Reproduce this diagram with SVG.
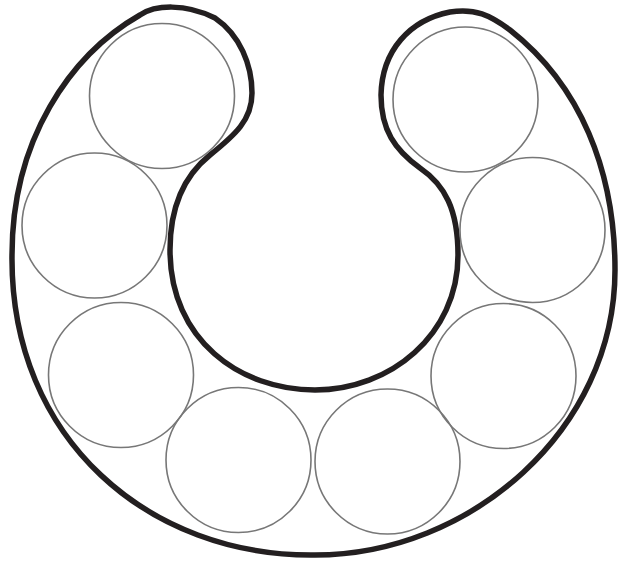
<svg xmlns="http://www.w3.org/2000/svg" width="629" height="565" viewBox="0 0 629 565">
<style>
.outline{fill:none;stroke:#231f20;stroke-width:5.5;stroke-linejoin:round}
.c{fill:none;stroke:#777;stroke-width:1.6}
</style>
<rect width="629" height="565" fill="#fff"/>
<g id="outline">
<path class="outline" d="M 315 555 C 150 557 10 440 12 255 C 12 140 70 55 140 15 C 155 5 185 3 215 18 C 240 35 252 65 252 93 C 252 120 235 135 210 155 C 185 175 170 205 170 250 C 170 340 240 390 315 390 C 390 390 458 335 458 255 C 458 210 445 185 420 168 C 395 150 381 130 381 95 C 382 50 410 20 450 12 C 475 8 490 15 510 30 C 580 85 615 170 615 270 C 615 430 470 555 315 555 Z"/>
</g>
<g id="circle1"><circle class="c" cx="162" cy="96" r="72.5"/></g>
<g id="circle2"><circle class="c" cx="94.5" cy="225.5" r="72.5"/></g>
<g id="circle3"><circle class="c" cx="121" cy="375" r="72.5"/></g>
<g id="circle4"><circle class="c" cx="238.5" cy="460" r="72.5"/></g>
<g id="circle5"><circle class="c" cx="387.5" cy="461.5" r="72.5"/></g>
<g id="circle6"><circle class="c" cx="503.5" cy="376" r="72.5"/></g>
<g id="circle7"><circle class="c" cx="532.5" cy="230" r="72.5"/></g>
<g id="circle8"><circle class="c" cx="465.5" cy="99.5" r="72.5"/></g>
</svg>
